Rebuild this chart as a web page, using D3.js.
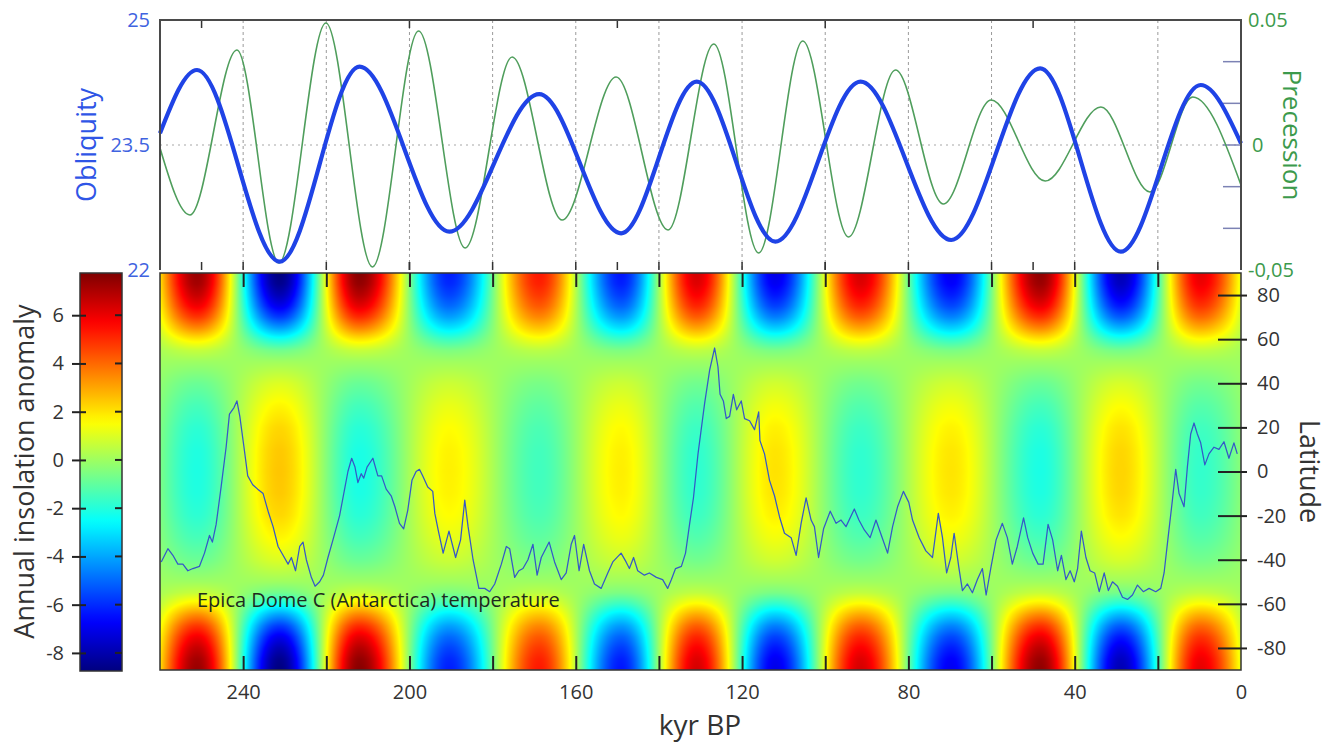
<!DOCTYPE html>
<html>
<head>
<meta charset="utf-8">
<script src="https://cdn.jsdelivr.net/npm/d3@7"></script>
<style>
  body { margin: 0; background: #fff; }
  svg { display: block; font-family: "Open Sans", "Noto Sans", sans-serif; }
</style>
</head>
<body>
<svg id="chart" width="1335" height="743"></svg>
<script>
// ---------- data ----------
// Obliquity (degrees): turning points of the curve, kyr BP
const obliquityAge   = [260, 251.1, 231.2, 212, 190.4, 168.8, 149.1, 130.9, 112, 91.5, 69.7, 48.3, 28.9, 9.7, 0];
const obliquityValue = [23.64, 24.40, 22.10, 24.44, 22.46, 24.11, 22.44, 24.26, 22.34, 24.26, 22.36, 24.42, 22.22, 24.22, 23.52];

// Climatic precession index: turning points, kyr BP
const precessionAge   = [260, 252.8, 241.5, 231.4, 220.1, 208.9, 197.8, 186.6, 175.3, 163.3, 150.3, 137.8,
                         126.8, 116, 105.4, 94.4, 83.1, 71.6, 60.1, 47.1, 33.7, 21.9, 11.6, 0];
const precessionValue = [-0.0012, -0.028, 0.038, -0.0472, 0.0488, -0.0488, 0.0456, -0.0412, 0.0352, -0.030, 0.0272, -0.034,
                         0.0404, -0.0432, 0.0416, -0.0368, 0.030, -0.0236, 0.018, -0.0144, 0.0152, -0.0188, 0.0192, -0.016];

// Annual insolation anomaly per degree of obliquity, by latitude (W m-2 per degree)
const latitudeGrid = [-90, -85, -80, -75, -70, -65, -60, -55, -50, -45, -40, -30, -20, -10, 0,
                      10, 20, 30, 40, 45, 50, 55, 60, 65, 70, 75, 80, 85, 90];
const insolationSensitivity = [7.0, 6.8, 6.3, 5.6, 4.6, 3.3, 1.8, 0.6, 0.0, -0.4, -0.8, -1.35, -1.75, -1.95, -2.0,
                               -1.95, -1.75, -1.35, -0.8, -0.4, 0.0, 0.6, 1.8, 3.3, 4.6, 5.6, 6.3, 6.8, 7.0];
const obliquityReference = 23.35;

// EPICA Dome C temperature anomaly (deg C), kyr BP
const tempAge = [
  259.7,258.1,256.9,255.7,254.5,253.3,252.1,250.5,249.3,248.1,
  247.4,246.5,245.3,244.1,243.3,242.2,241.5,240.8,239.8,238.9,
  237.7,236.5,235.2,234.0,232.8,231.6,230.4,229.2,228.4,227.4,
  226.4,225.6,224.8,223.6,222.7,221.6,220.7,219.6,218.4,216.8,
  215.6,214.8,213.9,213.1,212.4,211.6,211.0,210.2,208.8,207.6,
  206.7,205.6,204.4,203.5,202.4,201.4,200.4,199.4,198.4,197.6,
  196.8,195.6,194.4,
  193.9,193.1,191.9,190.5,188.9,187.7,186.7,185.9,184.7,183.3,
  181.9,180.7,179.5,177.9,176.7,175.9,174.7,173.7,172.7,171.5,
  170.3,169.3,168.3,166.4,165.1,163.5,162.3,161.1,160.3,159.2,
  158.1,156.7,155.5,153.9,152.3,151.1,149.1,147.9,147.1,146.1,
  145.1,143.5,142.3,140.6,139.1,137.9,137.0,136.0,134.6,133.6,
  132.6,131.7,130.6,
  129.0,127.8,126.6,125.8,125.3,124.5,123.8,123.0,122.1,121.3,
  120.2,119.4,118.2,117.0,116.0,115.7,114.6,113.4,112.2,111.0,
  109.8,108.2,107.0,105.8,104.6,103.4,102.6,101.6,100.4,98.8,
  97.4,96.2,95.0,93.0,91.9,90.6,89.2,87.8,86.3,85.0,
  83.8,82.6,81.2,79.9,79.0,77.4,75.8,74.2,72.8,71.8,
  70.8,69.8,69.0,67.9,67.0,65.8,64.6,
  63.4,62.2,61.3,60.1,58.9,57.4,56.2,55.0,53.8,52.3,
  51.3,50.1,48.8,47.6,46.4,45.3,44.1,43.2,42.1,41.1,
  40.1,39.3,38.4,37.3,36.3,35.2,34.1,32.9,31.9,30.9,
  29.7,28.5,27.3,26.1,24.9,23.5,22.1,20.5,19.3,18.5,
  17.6,16.5,15.7,14.9,13.7,12.9,12.1,11.3,10.5,9.7,
  8.7,7.7,6.5,5.3,4.1,2.9,1.7,0.9
];
const tempValue = [
  -5.1,-4.5,-4.8,-5.2,-5.2,-5.5,-5.4,-5.3,-4.7,-3.9,
  -4.2,-3.4,-1.7,0.1,1.6,1.9,2.2,1.5,0.1,-1.2,
  -1.6,-1.8,-2.0,-2.8,-3.5,-4.4,-4.8,-5.2,-4.9,-5.5,
  -4.4,-4.2,-5.0,-5.8,-6.2,-6.0,-5.7,-4.9,-4.1,-3.0,
  -1.8,-1.0,-0.4,-0.8,-1.5,-1.1,-1.3,-0.8,-0.4,-1.2,
  -1.2,-1.8,-2.1,-2.6,-3.35,-3.6,-2.75,-1.4,-1.0,-0.9,
  -1.2,-1.7,-1.9,
  -2.9,-3.65,-4.7,-3.7,-4.9,-4.1,-2.3,-3.5,-5.0,-6.3,
  -6.3,-6.45,-6.1,-5.2,-4.4,-4.5,-5.8,-5.5,-5.4,-5.0,
  -4.3,-5.7,-4.9,-4.2,-5.1,-5.9,-5.6,-4.3,-3.9,-5.5,
  -4.3,-5.5,-6.1,-6.3,-5.6,-5.1,-4.7,-5.1,-5.4,-4.9,
  -5.5,-5.7,-5.6,-5.8,-5.9,-6.3,-5.9,-5.4,-5.3,-4.7,
  -3.35,-2.2,-0.2,
  2.1,3.6,4.6,3.75,2.5,2.2,1.4,1.5,2.5,1.8,
  2.2,1.4,1.3,0.9,1.7,0.4,-0.2,-1.4,-2.1,-3.05,
  -3.8,-4.0,-4.8,-3.35,-2.2,-3.2,-3.5,-4.9,-3.6,-2.8,
  -3.35,-3.2,-3.5,-2.7,-3.2,-3.65,-4.0,-3.2,-4.0,-4.7,
  -3.5,-2.6,-1.9,-2.4,-3.2,-4.0,-4.6,-4.9,-2.9,-4.0,
  -5.6,-4.9,-3.8,-5.3,-6.4,-6.1,-6.5,
  -5.9,-5.4,-6.6,-5.3,-4.1,-3.35,-4.0,-5.2,-4.4,-3.1,
  -4.0,-4.7,-5.2,-5.2,-3.4,-4.1,-5.5,-4.8,-5.9,-5.5,
  -6.0,-5.4,-3.7,-4.9,-5.5,-5.6,-6.45,-5.6,-6.4,-6.0,
  -6.2,-6.7,-6.8,-6.6,-6.15,-6.45,-6.3,-6.45,-6.3,-5.6,
  -4.1,-2.3,-0.9,-2.0,-2.6,-0.8,0.7,1.2,0.7,0.3,
  -0.7,-0.2,0.1,0.0,0.35,-0.4,0.3,-0.2
];

// Axis ticks
const ageGridTicks   = [240, 220, 200, 180, 160, 140, 120, 100, 80, 60, 40, 20];
const ageLabelTicks  = [240, 200, 160, 120, 80, 40, 0];
const ageMajorTicks  = [250, 200, 150, 100, 50];
const oblLabelTicks  = [25, 23.5, 22];
const oblInnerTicks  = [22.5, 23, 23.5, 24, 24.5];
const precLabelTicks = [0.05, 0, -0.05];
const latTicks       = [80, 60, 40, 20, 0, -20, -40, -60, -80];
const colorbarTicks  = [6, 4, 2, 0, -2, -4, -6, -8];
const colorbarRange  = [-8.75, 7.75];

// ---------- layout ----------
const svg = d3.select("#chart");
const L = 160, R = 1241;
const topT = 20, topB = 270;
const heatT = 273, heatB = 670;

const x     = d3.scaleLinear().domain([260, 0]).range([L, R]);
const yObl  = d3.scaleLinear().domain([22, 25]).range([topB, topT]);
const yPrec = d3.scaleLinear().domain([-0.05, 0.05]).range([topB, topT]);
const yLat  = d3.scaleLinear().domain([-90, 90]).range([heatB, heatT]);
const yTemp = d3.scaleLinear().domain([-10, 8]).range([heatB, heatT]);
const sens  = d3.scaleLinear().domain(latitudeGrid).range(insolationSensitivity);

// jet colour map over the anomaly range
const jetStops = [0, 1/8, 3/8, 5/8, 7/8, 1];
const jetColors = ["#00007f", "#0000ff", "#00ffff", "#ffff00", "#ff0000", "#7f0000"];
const color = d3.scaleLinear()
  .domain(jetStops.map(f => colorbarRange[0] + f * (colorbarRange[1] - colorbarRange[0])))
  .range(jetColors)
  .interpolate(d3.interpolateRgb)
  .clamp(true);

const fmt = d => String(d);
const textColor = "#333";
const blueText = "#3f63e0";
const greenText = "#3c9a4c";

// ---------- top panel: obliquity & precession ----------
const topG = svg.append("g");

// grid
topG.selectAll("line.vgrid").data(ageGridTicks).join("line")
  .attr("x1", d => x(d)).attr("x2", d => x(d))
  .attr("y1", topT).attr("y2", topB)
  .attr("stroke", "#9a9a9a").attr("stroke-width", 1).attr("stroke-dasharray", "3,3");
topG.append("line")
  .attr("x1", L).attr("x2", R).attr("y1", yObl(23.5)).attr("y2", yObl(23.5))
  .attr("stroke", "#a8a8a8").attr("stroke-width", 1.2).attr("stroke-dasharray", "2,4");

// small ticks on the frame
topG.selectAll("line.ttop").data(ageMajorTicks).join("line")
  .attr("x1", d => x(d)).attr("x2", d => x(d)).attr("y1", topT).attr("y2", topT + 8)
  .attr("stroke", "#333").attr("stroke-width", 1.5);
topG.selectAll("line.tbot").data(ageGridTicks.concat(ageMajorTicks)).join("line")
  .attr("x1", d => x(d)).attr("x2", d => x(d)).attr("y1", topB - 8).attr("y2", topB)
  .attr("stroke", "#333").attr("stroke-width", 1.5);
topG.selectAll("line.oblr").data(oblInnerTicks).join("line")
  .attr("x1", R - 18).attr("x2", R).attr("y1", d => yObl(d)).attr("y2", d => yObl(d))
  .attr("stroke", "#7c82b4").attr("stroke-width", 1.5);

// precession curve
const precLine = d3.line().x(d => x(d[0])).y(d => yPrec(d[1])).curve(d3.curveMonotoneX);
topG.append("path")
  .datum(d3.zip(precessionAge, precessionValue))
  .attr("d", precLine)
  .attr("fill", "none").attr("stroke", "#4f9e5c").attr("stroke-width", 1.6);

// obliquity curve
const oblLine = d3.line().x(d => x(d[0])).y(d => yObl(d[1])).curve(d3.curveMonotoneX);
const oblPath = topG.append("path")
  .datum(d3.zip(obliquityAge, obliquityValue))
  .attr("d", oblLine)
  .attr("fill", "none").attr("stroke", "#1f43e6").attr("stroke-width", 4.2)
  .attr("stroke-linejoin", "round");

// frame
topG.append("path")
  .attr("d", `M${L},${topB}V${topT}H${R}V${topB}`)
  .attr("fill", "none").attr("stroke", "#4a4a4a").attr("stroke-width", 2);

// left / right labels
topG.selectAll("text.obl").data(oblLabelTicks).join("text")
  .attr("x", 150).attr("y", d => yObl(d)).attr("dy", "0.36em")
  .attr("text-anchor", "end").attr("font-size", 20).attr("fill", blueText)
  .text(fmt);
topG.selectAll("text.prec").data(precLabelTicks).join("text")
  .attr("x", d => d === 0 ? 1252 : 1248).attr("y", d => yPrec(d)).attr("dy", "0.36em")
  .attr("text-anchor", "start").attr("font-size", 20).attr("fill", greenText)
  .text(d => d === 0 ? "0" : d > 0 ? "0.05" : "-0,05");

topG.append("text")
  .attr("transform", `translate(96,${yObl(23.5)}) rotate(-90)`)
  .attr("text-anchor", "middle").attr("font-size", 27).attr("fill", "#2f55e6")
  .text("Obliquity");
topG.append("text")
  .attr("transform", `translate(1283,135) rotate(90)`)
  .attr("text-anchor", "middle").attr("font-size", 26).attr("fill", greenText)
  .text("Precession");

// ---------- heat map: annual insolation anomaly ----------
// obliquity at each pixel column
const pathNode = oblPath.node();
const total = pathNode.getTotalLength();
const samples = [];
for (let s = 0; s <= total; s += 0.5) {
  const p = pathNode.getPointAtLength(s);
  samples.push([p.x, p.y]);
}
samples.sort((a, b) => a[0] - b[0]);
const bis = d3.bisector(d => d[0]).left;
function oblAtPx(px) {
  let i = bis(samples, px);
  if (i <= 0) return yObl.invert(samples[0][1]);
  if (i >= samples.length) return yObl.invert(samples[samples.length - 1][1]);
  const a = samples[i - 1], b = samples[i];
  const t = b[0] === a[0] ? 0 : (px - a[0]) / (b[0] - a[0]);
  return yObl.invert(a[1] + t * (b[1] - a[1]));
}

const hw = R - L, hh = heatB - heatT;
const canvas = document.createElement("canvas");
canvas.width = hw; canvas.height = hh;
const ctx = canvas.getContext("2d");
const img = ctx.createImageData(hw, hh);

// colour lookup table
const LUT_N = 1024;
const lut = d3.range(LUT_N).map(i => {
  const v = colorbarRange[0] + (i / (LUT_N - 1)) * (colorbarRange[1] - colorbarRange[0]);
  return d3.rgb(color(v));
});
const rowSens = d3.range(hh).map(r => sens(yLat.invert(heatT + r + 0.5)));
for (let c = 0; c < hw; c++) {
  const dOb = oblAtPx(L + c + 0.5) - obliquityReference;
  for (let r = 0; r < hh; r++) {
    const v = rowSens[r] * dOb;
    let idx = Math.round((v - colorbarRange[0]) / (colorbarRange[1] - colorbarRange[0]) * (LUT_N - 1));
    idx = Math.max(0, Math.min(LUT_N - 1, idx));
    const col = lut[idx];
    const k = (r * hw + c) * 4;
    img.data[k] = col.r; img.data[k + 1] = col.g; img.data[k + 2] = col.b; img.data[k + 3] = 255;
  }
}
ctx.putImageData(img, 0, 0);

const heatG = svg.append("g");
heatG.append("image")
  .attr("x", L).attr("y", heatT).attr("width", hw).attr("height", hh)
  .attr("preserveAspectRatio", "none")
  .attr("href", canvas.toDataURL());

// temperature record
const tempLine = d3.line().x(d => x(d[0])).y(d => yTemp(d[1]));
heatG.append("path")
  .datum(d3.zip(tempAge, tempValue))
  .attr("d", tempLine)
  .attr("fill", "none").attr("stroke", "#3558c8").attr("stroke-width", 1.25)
  .attr("stroke-linejoin", "round");

heatG.append("text")
  .attr("x", 197).attr("y", 607)
  .attr("font-size", 20).attr("fill", "#1e2a1e")
  .text("Epica Dome C (Antarctica) temperature");

// frame
heatG.append("rect")
  .attr("x", L).attr("y", heatT).attr("width", hw).attr("height", hh)
  .attr("fill", "none").attr("stroke", "#333").attr("stroke-width", 1.5);

// bottom age axis: inward ticks every 20 kyr, labels every 40 kyr
const xAxisBottom = d3.axisBottom(x)
  .tickValues(ageGridTicks)
  .tickSizeInner(-14).tickSizeOuter(0)
  .tickFormat("");
heatG.append("g").attr("transform", `translate(0,${heatB})`).call(xAxisBottom)
  .call(g => g.select(".domain").remove())
  .call(g => g.selectAll(".tick line").attr("stroke", "#222").attr("stroke-width", 2));

const xAxisLabels = d3.axisBottom(x)
  .tickValues(ageLabelTicks)
  .tickSize(0).tickPadding(15)
  .tickFormat(fmt);
heatG.append("g").attr("transform", `translate(0,${heatB})`).call(xAxisLabels)
  .call(g => g.select(".domain").remove())
  .call(g => g.selectAll(".tick text").attr("font-size", 20).attr("fill", textColor)
    .attr("font-family", "'Open Sans', sans-serif"));

const xAxisTop = d3.axisTop(x)
  .tickValues(ageGridTicks)
  .tickSizeInner(-14).tickSizeOuter(0)
  .tickFormat("");
heatG.append("g").attr("transform", `translate(0,${heatT})`).call(xAxisTop)
  .call(g => g.select(".domain").remove())
  .call(g => g.selectAll(".tick line").attr("stroke", "#222").attr("stroke-width", 2));

svg.append("text")
  .attr("x", 700).attr("y", 735)
  .attr("text-anchor", "middle").attr("font-size", 28).attr("fill", textColor)
  .text("kyr BP");

// latitude axis
const latAxis = d3.axisRight(yLat)
  .tickValues(latTicks)
  .tickSizeInner(7).tickSizeOuter(0).tickPadding(10)
  .tickFormat(fmt);
heatG.append("g").attr("transform", `translate(${R - 1},0)`).call(latAxis)
  .call(g => g.select(".domain").remove())
  .call(g => g.selectAll(".tick line").attr("x1", -22).attr("stroke", "#222").attr("stroke-width", 2))
  .call(g => g.selectAll(".tick text").attr("font-size", 20).attr("fill", textColor)
    .attr("font-family", "'Open Sans', sans-serif"));

svg.append("text")
  .attr("transform", `translate(1300,${yLat(0)}) rotate(90)`)
  .attr("text-anchor", "middle").attr("font-size", 27).attr("fill", textColor)
  .text("Latitude");

// ---------- colour bar ----------
const cbX = 80, cbW = 42;
const yCb = d3.scaleLinear().domain(colorbarRange).range([heatB + 1, heatT]);
const defs = svg.append("defs");
const grad = defs.append("linearGradient").attr("id", "jetGrad")
  .attr("x1", 0).attr("x2", 0).attr("y1", 1).attr("y2", 0);
grad.selectAll("stop").data(d3.range(0, 1.0001, 0.02)).join("stop")
  .attr("offset", d => d)
  .attr("stop-color", d => color(colorbarRange[0] + d * (colorbarRange[1] - colorbarRange[0])));

const cbG = svg.append("g");
cbG.append("rect")
  .attr("x", cbX).attr("y", yCb(colorbarRange[1])).attr("width", cbW)
  .attr("height", yCb(colorbarRange[0]) - yCb(colorbarRange[1]))
  .attr("fill", "url(#jetGrad)").attr("stroke", "#333").attr("stroke-width", 1.5);

const cbAxis = d3.axisLeft(yCb)
  .tickValues(colorbarTicks)
  .tickSizeInner(8).tickSizeOuter(0).tickPadding(8)
  .tickFormat(fmt);
cbG.append("g").attr("transform", `translate(${cbX},0)`).call(cbAxis)
  .call(g => g.select(".domain").remove())
  .call(g => g.selectAll(".tick line").attr("x2", -8).attr("x1", 6).attr("stroke", "#222").attr("stroke-width", 2))
  .call(g => g.selectAll(".tick text").attr("font-size", 20).attr("fill", textColor)
    .attr("font-family", "'Open Sans', sans-serif"));
cbG.selectAll("line.cbr").data(colorbarTicks).join("line")
  .attr("x1", cbX + cbW - 7).attr("x2", cbX + cbW)
  .attr("y1", d => yCb(d)).attr("y2", d => yCb(d))
  .attr("stroke", "#222").attr("stroke-width", 2);

svg.append("text")
  .attr("transform", `translate(34,${yLat(0)}) rotate(-90)`)
  .attr("text-anchor", "middle").attr("font-size", 27).attr("fill", textColor)
  .text("Annual insolation anomaly");
</script>
</body>
</html>
